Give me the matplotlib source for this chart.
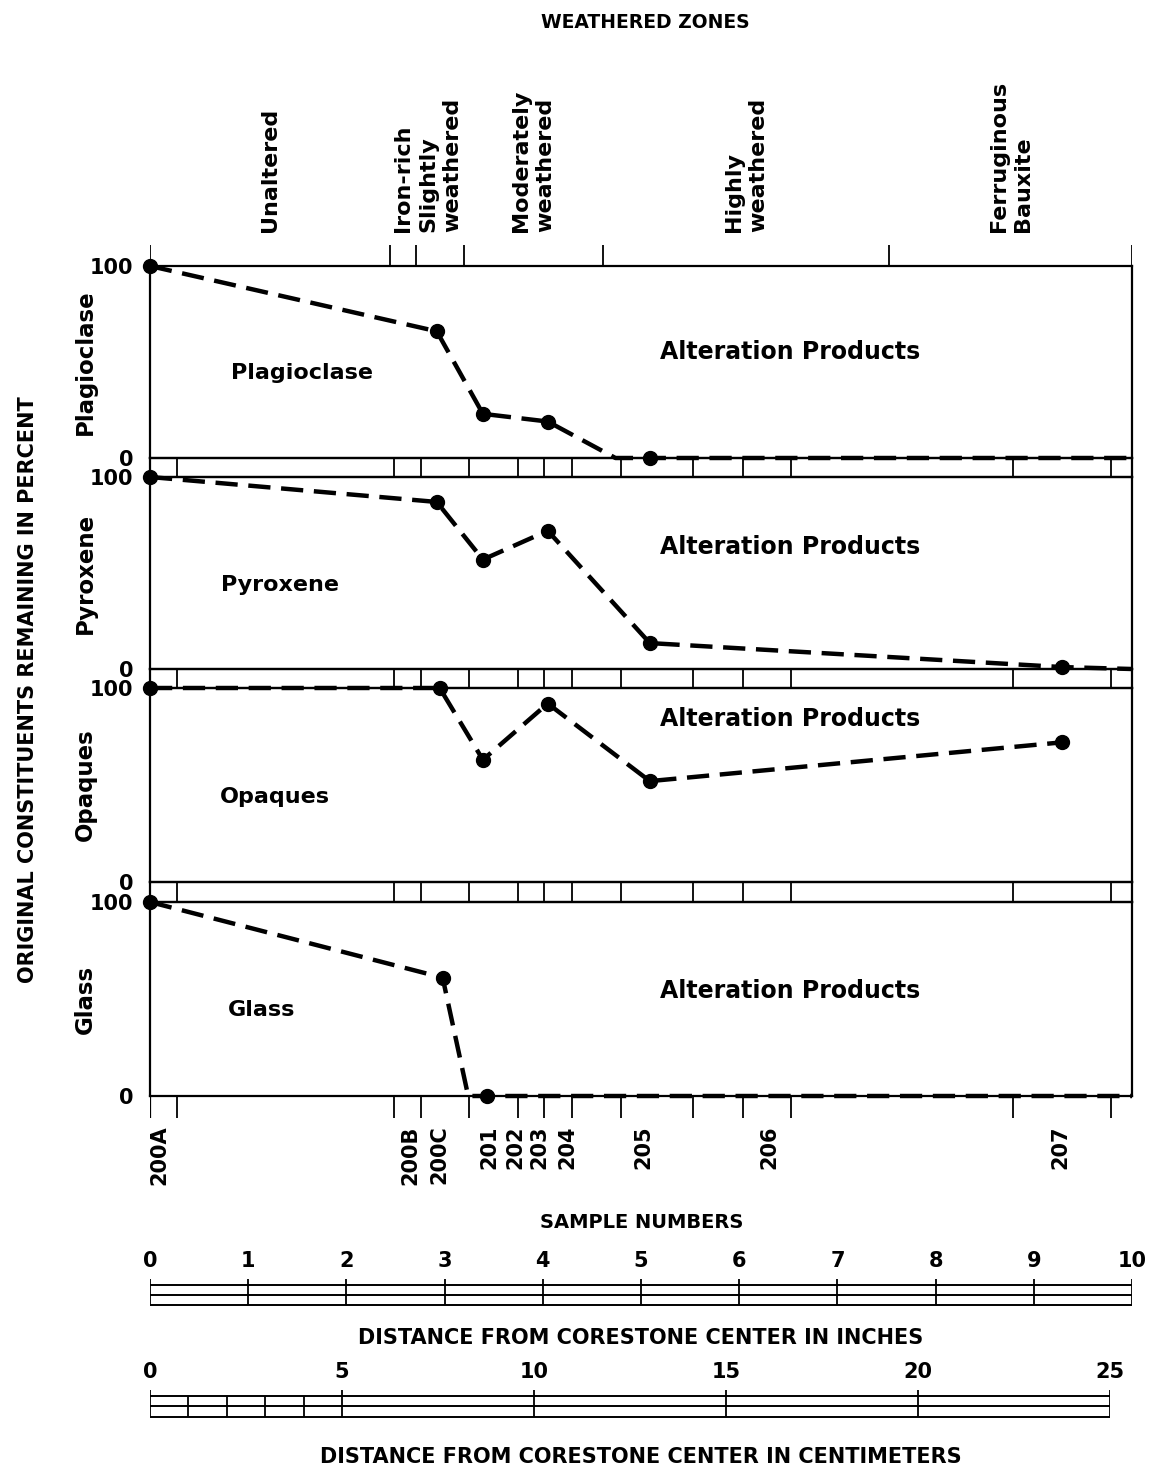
import matplotlib
matplotlib.use("Agg")
import matplotlib.pyplot as plt
from matplotlib import font_manager

# ---- data (distances in inches from corestone center) ----
zone_names = ["Unaltered", "Iron-rich", "Slightly\nweathered", "Moderately\nweathered",
              "Highly\nweathered", "Ferruginous\nBauxite"]
zone_edges = [0, 2.44, 2.71, 3.20, 4.61, 7.53, 10]

sample_names = ["200A", "200B", "200C", "201", "202", "203", "204", "205", "206", "207"]
sample_label_pos = [0.10, 2.65, 2.95, 3.46, 3.72, 3.97, 4.25, 5.02, 6.31, 9.27]
slab_edges = [0.27, 2.48, 2.76, 3.25, 3.75, 4.01, 4.30, 4.80, 5.53, 6.04, 6.53, 8.79, 9.79]

minerals = ["Plagioclase", "Pyroxene", "Opaques", "Glass"]

plag_x = [0, 2.92, 3.39, 4.05, 5.09]
plag_y = [100, 66, 23, 19, 0]
plag_line_x = [0, 2.92, 3.39, 4.05, 4.74, 5.09, 10]
plag_line_y = [100, 66, 23, 19, 0, 0, 0]

pyro_x = [0, 2.92, 3.39, 4.05, 5.09, 9.29]
pyro_y = [100, 87, 57, 72, 13.5, 1]
pyro_line_x = [0, 2.92, 3.39, 4.05, 5.09, 9.29, 10]
pyro_line_y = [100, 87, 57, 72, 13.5, 1, 0]

opaq_x = [0, 2.95, 3.39, 4.05, 5.09, 9.29]
opaq_y = [100, 100, 63, 92, 52, 72]
opaq_line_x = opaq_x
opaq_line_y = opaq_y

glass_x = [0, 2.98, 3.43]
glass_y = [100, 61, 0]
glass_line_x = [0, 2.98, 3.24, 3.43, 10]
glass_line_y = [100, 61, 0, 0, 0]

inch_ticks = list(range(0, 11))
cm_ticks = [0, 5, 10, 15, 20, 25]
cm_minor = [1, 2, 3, 4]

# ---- fonts ----
fam = []
for f in ["Liberation Sans Narrow", "DejaVu Sans"]:
    try:
        font_manager.findfont(f, fallback_to_default=False)
        fam.append(f)
    except Exception:
        pass
plt.rcParams["font.family"] = fam
plt.rcParams["font.weight"] = "bold"

W, H = 1158, 1472
fig = plt.figure(figsize=(W / 100, H / 100), dpi=100)


def rect(x0, y0, x1, y1):
    return [x0 / W, 1 - y1 / H, (x1 - x0) / W, (y1 - y0) / H]


def fx(px):
    return px / W


def fy(py):
    return 1 - py / H


XL, XR = 150, 1132
lw_frame = 1.6

# ---- panels ----
panels = [(266, 458), (477, 669), (688, 882), (902, 1096)]
series = [
    (plag_x, plag_y, plag_line_x, plag_line_y),
    (pyro_x, pyro_y, pyro_line_x, pyro_line_y),
    (opaq_x, opaq_y, opaq_line_x, opaq_line_y),
    (glass_x, glass_y, glass_line_x, glass_line_y),
]
alt_y = [352, 547, 719, 991]
name_pos = [(302, 373), (280, 585), (275, 797), (262, 1010)]

for i, (top, bot) in enumerate(panels):
    ax = fig.add_axes(rect(XL, top, XR, bot))
    px, py, lx, ly = series[i]
    ax.plot(lx, ly, color="black", lw=3.2, ls=(0, (5, 2.4)), clip_on=False, zorder=3)
    ax.plot(px, py, "o", color="black", ms=10, clip_on=False, zorder=4)
    ax.set_xlim(0, 10)
    ax.set_ylim(0, 100)
    ax.set_xticks([])
    ax.set_yticks([0, 100])
    ax.set_yticklabels(["0", "100"], fontsize=15)
    ax.tick_params(axis="y", length=0, pad=12)
    for s in ax.spines.values():
        s.set_linewidth(lw_frame)
    fig.text(fx(name_pos[i][0]), fy(name_pos[i][1]), minerals[i], fontsize=16,
             ha="center", va="center")
    fig.text(fx(790), fy(alt_y[i]), "Alteration Products", fontsize=17,
             ha="center", va="center")
    fig.text(fx(85), fy((top + bot) / 2), minerals[i], fontsize=16.5, rotation=90,
             ha="center", va="center")

# ---- strips between panels with slab edges ----
strips = [(458, 477), (669, 688), (882, 902)]
for top, bot in strips:
    sa = fig.add_axes(rect(XL, top, XR, bot))
    sa.set_xlim(0, 10)
    sa.set_ylim(0, 1)
    sa.vlines(slab_edges, 0, 1, color="black", lw=1.3)
    sa.set_xticks([])
    sa.set_yticks([])
    for s in sa.spines.values():
        s.set_linewidth(lw_frame)
    sa.patch.set_alpha(0)

# bottom hanging ticks
ba = fig.add_axes(rect(XL, 1096, XR, 1118))
ba.set_xlim(0, 10)
ba.set_ylim(0, 1)
ba.vlines(slab_edges, 0, 1, color="black", lw=1.3)
ba.vlines([0], 0, 1, color="black", lw=lw_frame)
ba.axis("off")
for name, pos in zip(sample_names, sample_label_pos):
    ba.text(pos, -0.35, name, rotation=90, ha="center", va="top", fontsize=15)
fig.text(fx(642), fy(1222), "SAMPLE NUMBERS", fontsize=14, ha="center", va="center")

# top zone ticks and labels
za = fig.add_axes(rect(XL, 245, XR, 266))
za.set_xlim(0, 10)
za.set_ylim(0, 1)
za.vlines(zone_edges, 0, 1, color="black", lw=1.3)
za.axis("off")
for j, name in enumerate(zone_names):
    mid = (zone_edges[j] + zone_edges[j + 1]) / 2
    za.text(mid, 1.6, name, rotation=90, ha="center", va="bottom",
            multialignment="left", fontsize=16, linespacing=1.25)
fig.text(fx(645), fy(22), "WEATHERED ZONES", fontsize=13.5, ha="center", va="center")

fig.text(fx(28), fy(690), "ORIGINAL CONSTITUENTS REMAINING IN PERCENT", fontsize=15,
         rotation=90, ha="center", va="center")

# ---- inch scale ----
ia = fig.add_axes(rect(XL, 1279, XR, 1306))
ia.set_xlim(0, 10)
ia.set_ylim(0, 1)
ia.hlines([0.05, 0.42, 0.78], 0, 10, color="black", lw=1.4)
ia.vlines(inch_ticks, 0.05, 1, color="black", lw=1.3)
ia.axis("off")
for t in inch_ticks:
    ia.text(t, 1.3, str(t), ha="center", va="bottom", fontsize=15)
fig.text(fx(641), fy(1338), "DISTANCE FROM CORESTONE CENTER IN INCHES", fontsize=15,
         ha="center", va="center")

# ---- centimeter scale ----
ca = fig.add_axes(rect(XL, 1390, 1110, 1418))
ca.set_xlim(0, 25)
ca.set_ylim(0, 1)
ca.hlines([0.05, 0.42, 0.78], 0, 25, color="black", lw=1.4)
ca.vlines(cm_ticks, 0.05, 1, color="black", lw=1.3)
ca.vlines(cm_minor, 0.05, 0.78, color="black", lw=1.3)
ca.axis("off")
for t in cm_ticks:
    ca.text(t, 1.3, str(t), ha="center", va="bottom", fontsize=15)
fig.text(fx(641), fy(1457), "DISTANCE FROM CORESTONE CENTER IN CENTIMETERS", fontsize=15,
         ha="center", va="center")

fig.savefig("out.png", dpi=100)
